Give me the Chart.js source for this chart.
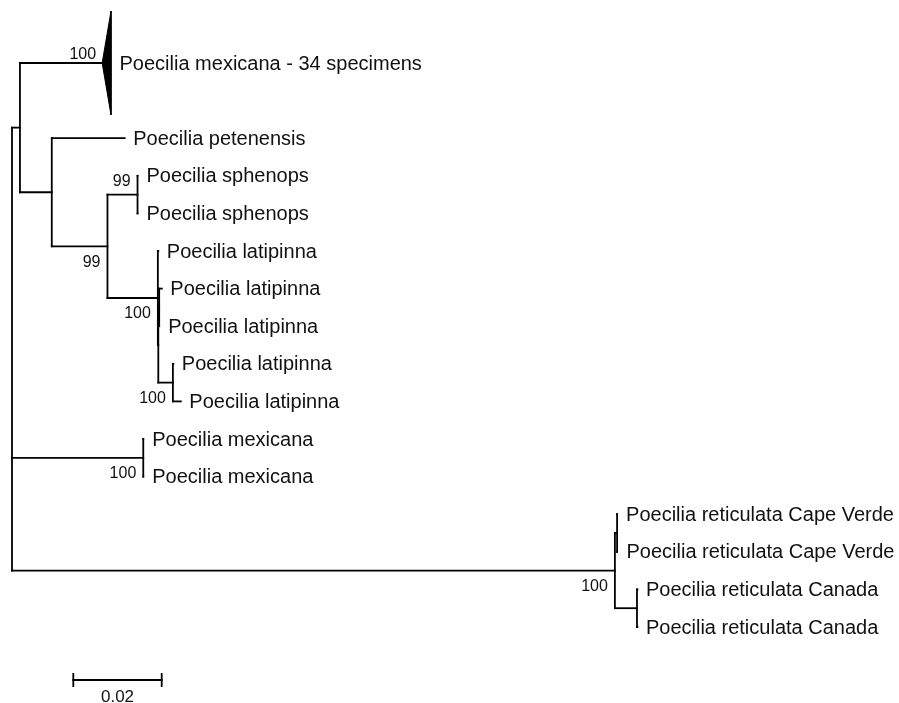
<!DOCTYPE html>
<html><head><meta charset="utf-8">
<script src="https://cdn.jsdelivr.net/npm/chart.js@4.4.1/dist/chart.umd.min.js"></script>
<style>html,body{margin:0;padding:0;background:#fff;}#wrap{width:899px;height:703px;position:relative;}</style>
</head><body><div id="wrap"><canvas id="c"></canvas></div>
<script>
// ---------------- DATA ----------------
const nodeIds = ['root','M','mex34','P','petenensis','S','Sph','sph1','sph2','L0','lat1','L1','L2','lat2','lat3','L3','lat4','lat5','MX','mex1','mex2','R','CV','cv1','cv2','CA','ca1','ca2'];
const nodeParents = [null,'root','M','M','P','P','S','Sph','Sph','S','L0','L0','L1','L2','L2','L1','L3','L3','root','MX','MX','root','R','CV','CV','R','CA','CA'];
const branchLengths = [0,0.0018,0.0186,0.0072,0.0165,0.0126,0.0068,0.0001,0.0001,0.0114,0.0001,0.0001,0.0002,0.0006,0.0001,0.0033,0.0001,0.0018,0.0297,0.0001,0.0001,0.1364,0.0005,0.0001,0.0002,0.0050,0.0001,0.0001];
const tipLabels = [null,null,'Poecilia mexicana - 34 specimens',null,'Poecilia petenensis',null,null,'Poecilia sphenops','Poecilia sphenops',null,'Poecilia latipinna',null,null,'Poecilia latipinna','Poecilia latipinna',null,'Poecilia latipinna','Poecilia latipinna',null,'Poecilia mexicana','Poecilia mexicana',null,null,'Poecilia reticulata Cape Verde','Poecilia reticulata Cape Verde',null,'Poecilia reticulata Canada','Poecilia reticulata Canada'];
const bootstrapValues = [null,null,100,null,null,99,99,null,null,100,null,null,null,null,null,100,null,null,100,null,null,100,null,null,null,null,null,null];
const collapsedNodes = ['mex34'];
const collapsedDepths = [0.0020];
const scaleBarLength = 0.02;
const scaleBarLabel = '0.02';

// ---------------- STYLE ----------------
const W = 899, H = 703;
const PX_PER_UNIT = 4420;      // horizontal scale
const ROOT_PX = 12;            // root x in px
const ROW_PX = 37.6;           // row height
const ROW0_PX = 63;            // y px of row 0
const COLLAPSE_HALF = 1.38;    // triangle half-height in rows
const LINE_COLOR = '#000';
const LINE_W = 1.8;
const TIP_FONT = "20px 'Liberation Sans', Arial, sans-serif";
const BOOT_FONT = "16px 'Liberation Sans', Arial, sans-serif";
const TIP_GAP = 8.5;
const BAR_X0 = 0.01387, BAR_ROW = 16.41, BAR_TICK = 0.16;
const BOOT_OFFSETS = {mex34:[-6,-8], Sph:[-7,-13]}; // others: [-7, 16]

// ---------------- LAYOUT (from data) ----------------
const nodes = nodeIds.map((id,i)=>({id, parent:nodeParents[i], bl:branchLengths[i], label:tipLabels[i], boot:bootstrapValues[i], children:[]}));
const byId = {}; nodes.forEach(n=>byId[n.id]=n);
nodes.forEach(n=>{ if(n.parent) byId[n.parent].children.push(n); });
nodes.forEach(n=>{ const k=collapsedNodes.indexOf(n.id); n.cdepth = k>=0 ? collapsedDepths[k] : 0; n.collapsed = k>=0; });
let cursor = 0;
function layout(n, d){
  n.depth = d + n.bl;
  if(n.children.length===0){
    n.row = cursor; cursor += n.collapsed ? 2 : 1;
  } else {
    n.children.forEach(c=>layout(c, n.depth));
    n.row = (n.children[0].row + n.children[n.children.length-1].row)/2;
  }
}
layout(byId['root'], 0);

const datasets = [];
function seg(x0,y0,x1,y1){
  datasets.push({data:[{x:x0,y:y0},{x:x1,y:y1}], showLine:true, borderColor:LINE_COLOR, borderWidth:LINE_W, pointRadius:0, fill:false, borderCapStyle:'square'});
}
nodes.forEach(n=>{
  if(n.parent){ seg(byId[n.parent].depth, n.row, n.depth, n.row); }
  if(n.children.length){ seg(n.depth, n.children[0].row, n.depth, n.children[n.children.length-1].row); }
  if(n.collapsed){
    datasets.push({data:[{x:n.depth,y:n.row},{x:n.depth+n.cdepth,y:n.row-COLLAPSE_HALF},{x:n.depth+n.cdepth,y:n.row+COLLAPSE_HALF},{x:n.depth,y:n.row}],
      showLine:true, fill:'shape', backgroundColor:'#000', borderColor:'#000', borderWidth:1, pointRadius:0, tension:0});
  }
});
// scale bar
seg(BAR_X0, BAR_ROW, BAR_X0+scaleBarLength, BAR_ROW);
seg(BAR_X0, BAR_ROW-BAR_TICK, BAR_X0, BAR_ROW+BAR_TICK);
seg(BAR_X0+scaleBarLength, BAR_ROW-BAR_TICK, BAR_X0+scaleBarLength, BAR_ROW+BAR_TICK);

const labelPlugin = {
  id:'treeLabels',
  afterDatasetsDraw(chart){
    const {ctx, scales:{x,y}} = chart;
    ctx.save();
    ctx.fillStyle = '#111';
    ctx.textBaseline = 'middle';
    nodes.forEach(n=>{
      const px = x.getPixelForValue(n.depth), py = y.getPixelForValue(n.row);
      if(n.label){
        ctx.font = TIP_FONT; ctx.textAlign = 'left';
        ctx.fillText(n.label, x.getPixelForValue(n.depth + n.cdepth) + TIP_GAP, py + 1);
      }
      if(n.boot!=null){
        ctx.font = BOOT_FONT; ctx.textAlign = 'right';
        const off = BOOT_OFFSETS[n.id] || [-7, 16];
        ctx.fillText(String(n.boot), px + off[0], py + off[1]);
      }
    });
    ctx.font = "17px 'Liberation Sans', Arial, sans-serif"; ctx.textAlign='center';
    ctx.fillText(scaleBarLabel, x.getPixelForValue(BAR_X0+scaleBarLength/2), y.getPixelForValue(BAR_ROW)+17);
    ctx.restore();
  }
};

const xMin = -ROOT_PX/PX_PER_UNIT, xMax = xMin + W/PX_PER_UNIT;
const yMin = -ROW0_PX/ROW_PX, yMax = yMin + H/ROW_PX;

new Chart(document.getElementById('c'), {
  type:'scatter',
  data:{datasets},
  options:{
    responsive:true, maintainAspectRatio:false, animation:false, devicePixelRatio:1,
    layout:{padding:0},
    plugins:{legend:{display:false}, tooltip:{enabled:false}},
    scales:{
      x:{type:'linear', min:xMin, max:xMax, display:false},
      y:{type:'linear', min:yMin, max:yMax, reverse:true, display:false}
    },
    elements:{line:{tension:0}},
    clip:false
  },
  plugins:[labelPlugin]
});
</script></body></html>
